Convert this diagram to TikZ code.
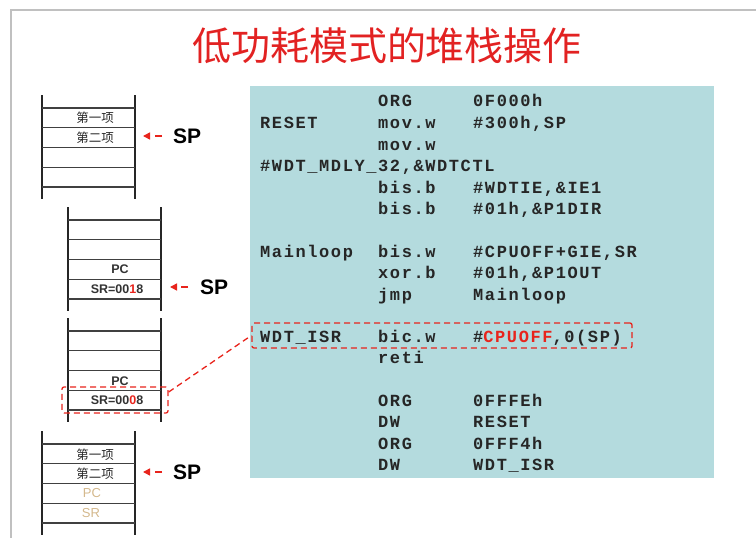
\documentclass[tikz,border=0pt]{standalone}
\usepackage{fontspec}
\setmainfont{Liberation Sans}
\newfontfamily\cjk{Noto Sans CJK SC}
\newfontfamily\codefont[LetterSpace=9.4]{Liberation Mono}
\usepackage{tikz}
\usetikzlibrary{arrows.meta,positioning,calc}
\definecolor{codebg}{RGB}{180,219,222}
\definecolor{titlered}{RGB}{226,34,34}
\definecolor{digitred}{RGB}{232,36,28}
\definecolor{tanpc}{RGB}{212,184,140}
\definecolor{pagegray}{RGB}{192,192,192}

\begin{document}
\begin{tikzpicture}[x=1pt,y=-1pt,
  rail/.style={line width=2.2pt,black!85},
  rung/.style={line width=1.3pt,black!75},
  cell/.style={font=\fontsize{12.5}{14}\selectfont\bfseries,text=black!80,inner sep=0pt},
  cjkcell/.style={font=\cjk\fontsize{12.5}{14}\selectfont,text=black!85,inner sep=0pt},
  sptag/.style={font=\fontsize{21}{24}\selectfont\bfseries,inner sep=0pt,anchor=west},
  sparrow/.style={digitred,line width=1.5pt,dash pattern=on 7pt off 6pt,-{Triangle[length=7pt,width=7pt]}},
  hlbox/.style={draw=digitred,line width=1.3pt,dash pattern=on 6pt off 4pt,rounded corners=2pt,inner sep=0pt},
  code/.style={font=\codefont\bfseries\fontsize{17}{20}\selectfont,text=black!85,anchor=base west,inner sep=0pt}]
\useasboundingbox (0,0) rectangle (756,538);
\draw[pagegray, line width=1.8pt] (756,10) -- (11,10) -- (11,538);
\node[font=\cjk\fontsize{39}{44}\selectfont, text=titlered] (title) at (387,46) {低功耗模式的堆栈操作};

\foreach \sx/\st in {42/95,68/207,68/318,42/431} {
  \draw[rail] (\sx,\st) -- (\sx,\st+104);
  \draw[rail] (\sx+93,\st) -- (\sx+93,\st+104);
  \foreach \k in {0,...,4}
    \draw[rung] (\sx,\st+13+19.75*\k) -- (\sx+93,\st+13+19.75*\k);
}

\node[cjkcell] (s1a) at (95,118) {第一项};
\node[cjkcell] (s1b) at (95,137.5) {第二项};
\node[cell] (s2pc) at (120,269.5) {PC};
\node[cell] (s2sr) at (117,289) {SR=00{\color{digitred}1}8};
\node[cell] (s3pc) at (120,381) {PC};
\node[cell] (s3sr) at (117,400.5) {SR=00{\color{digitred}0}8};
\node[cjkcell] (s4a) at (95,454.5) {第一项};
\node[cjkcell] (s4b) at (95,474) {第二项};
\node[cell, font=\fontsize{13}{14}\selectfont, text=tanpc] (s4pc) at (92,493.5) {PC};
\node[cell, font=\fontsize{13}{14}\selectfont, text=tanpc] (s4sr) at (91,513) {SR};

\node[sptag] (sp1) at (173,136) {SP};
\node[sptag] (sp2) at (200,287) {SP};
\node[sptag] (sp4) at (173,472) {SP};
\coordinate (tip1) at (143,136);
\coordinate (tip2) at (170,287);
\coordinate (tip4) at (143,472);
\draw[sparrow] ([xshift=-11pt]sp1.west) -- (tip1);
\draw[sparrow] ([xshift=-12pt]sp2.west) -- (tip2);
\draw[sparrow] ([xshift=-11pt]sp4.west) -- (tip4);

\fill[codebg] (250,86) rectangle (714,478);
\node[code] (c1b) at (378,106) {ORG};
\node[code] (c1c) at (473,106) {0F000h};
\node[code] (c2a) at (260,128) {RESET};
\node[code] (c2b) at (378,128) {mov.w};
\node[code] (c2c) at (473,128) {\#300h,SP};
\node[code] (c3b) at (378,150) {mov.w};
\node[code] (c4a) at (260,171) {\#WDT\_MDLY\_32,\&WDTCTL};
\node[code] (c5b) at (378,193) {bis.b};
\node[code] (c5c) at (473,193) {\#WDTIE,\&IE1};
\node[code] (c6b) at (378,214) {bis.b};
\node[code] (c6c) at (473,214) {\#01h,\&P1DIR};
\node[code] (c7a) at (260,257) {Mainloop};
\node[code] (c7b) at (378,257) {bis.w};
\node[code] (c7c) at (473,257) {\#CPUOFF+GIE,SR};
\node[code] (c8b) at (378,278) {xor.b};
\node[code] (c8c) at (473,278) {\#01h,\&P1OUT};
\node[code] (c9b) at (378,300) {jmp};
\node[code] (c9c) at (473,300) {Mainloop};
\node[code] (c10a) at (260,342) {WDT\_ISR};
\node[code] (c10b) at (378,342) {bic.w};
\node[code] (c10c) at (473,342) {\#{\color{digitred}CPUOFF},0(SP)};
\node[code] (c11b) at (378,363) {reti};
\node[code] (c12b) at (378,406) {ORG};
\node[code] (c12c) at (473,406) {0FFFEh};
\node[code] (c13b) at (378,427) {DW};
\node[code] (c13c) at (473,427) {RESET};
\node[code] (c14b) at (378,449) {ORG};
\node[code] (c14c) at (473,449) {0FFF4h};
\node[code] (c15b) at (378,470) {DW};
\node[code] (c15c) at (473,470) {WDT\_ISR};

\node[hlbox, minimum width=106pt, minimum height=26pt] (hl3) at (115,400) {};
\node[hlbox, minimum width=380pt, minimum height=25pt] (hlcode) at (442,335.5) {};
\draw[digitred, line width=1.3pt, dash pattern=on 6pt off 4pt] ([yshift=8pt]hl3.east) -- (hlcode.west);
\end{tikzpicture}
\end{document}
